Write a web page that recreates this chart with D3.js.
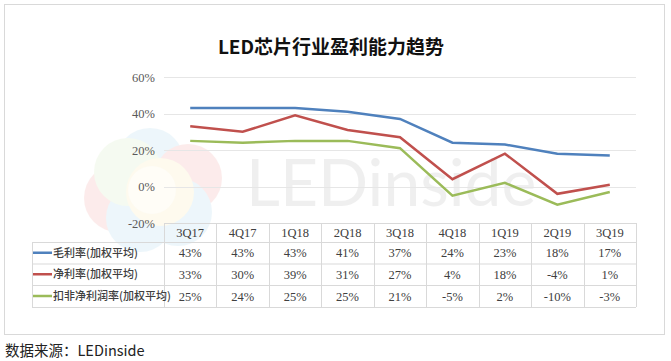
<!DOCTYPE html>
<html>
<head>
<meta charset="utf-8">
<script src="https://cdn.jsdelivr.net/npm/d3@7"></script>
<style>
  body { margin: 0; background: #fff; }
  svg { display: block; }
</style>
</head>
<body>
<script>
const [width, height] = [671, 361];

const quarters = ['3Q17', '4Q17', '1Q18', '2Q18', '3Q18', '4Q18', '1Q19', '2Q19', '3Q19'];
const seriesNames = ['毛利率(加权平均)', '净利率(加权平均)', '扣非净利润率(加权平均)'];
const grossMargin = [43, 43, 43, 41, 37, 24, 23, 18, 17];
const netMargin = [33, 30, 39, 31, 27, 4, 18, -4, 1];
const adjNetMargin = [25, 24, 25, 25, 21, -5, 2, -10, -3];
const yTicks = [-20, 0, 20, 40, 60];
const colors = ['#4f81bd', '#c0504d', '#9bbb59'];

const series = [grossMargin, netMargin, adjNetMargin].map((v, i) => ({
  name: seriesNames[i], values: v, color: colors[i]
}));

const svg = d3.select('body').append('svg')
  .attr('width', width)
  .attr('height', height);

// outer frame
svg.append('rect')
  .attr('x', 4.5).attr('y', 4.5)
  .attr('width', 660).attr('height', 330)
  .attr('fill', '#fff')
  .attr('stroke', '#d9d9d9');

// faint watermark
const wm = svg.append('g').attr('opacity', 0.09);
[[150, 162, '#3fa7d6'], [118, 198, '#e3342f'], [188, 178, '#e3342f'], [140, 218, '#3fa7d6'],
 [178, 212, '#3fa7d6'], [128, 172, '#9bd36b'], [160, 192, '#f6d34a']].forEach(c => {
  wm.append('circle').attr('cx', c[0]).attr('cy', c[1]).attr('r', 34).attr('fill', c[2]);
});
svg.append('circle').attr('cx', 152).attr('cy', 190).attr('r', 24).attr('fill', '#fff').attr('opacity', 0.5);
svg.append('text')
  .attr('x', 246).attr('y', 206)
  .attr('font-family', 'Lato, "Open Sans", sans-serif')
  .attr('font-size', 66)
  .attr('fill', '#000')
  .attr('opacity', 0.06)
  .text('LEDinside');

const x = d3.scaleBand().domain(quarters).range([164, 636]);
const y = d3.scaleLinear().domain([-20, 60]).range([223, 77]);

// title
svg.append('text')
  .attr('x', 331).attr('y', 54)
  .attr('text-anchor', 'middle')
  .attr('font-family', '"Noto Sans CJK SC", sans-serif')
  .attr('font-weight', 'bold')
  .attr('font-size', 19)
  .attr('fill', '#111')
  .text('LED芯片行业盈利能力趋势');

// y axis
const yAxis = svg.append('g')
  .attr('transform', 'translate(164,0)')
  .call(d3.axisLeft(y).tickValues(yTicks).tickSize(0).tickPadding(9).tickFormat(d => d + '%'));
yAxis.select('.domain').remove();
yAxis.selectAll('text')
  .attr('font-family', '"Liberation Serif", serif')
  .attr('font-size', 12.5)
  .attr('fill', '#595959');

svg.append('g').selectAll('line')
  .data(yTicks.filter(d => d > -20))
  .join('line')
  .attr('x1', 164).attr('x2', 636)
  .attr('y1', d => Math.round(y(d)) + 0.5).attr('y2', d => Math.round(y(d)) + 0.5)
  .attr('stroke', '#e6e6e6');

// lines
const line = d3.line()
  .x((d, i) => x(quarters[i]) + x.bandwidth() / 2)
  .y(d => y(d));

svg.append('g').selectAll('path')
  .data(series)
  .join('path')
  .attr('d', d => line(d.values))
  .attr('fill', 'none')
  .attr('stroke', d => d.color)
  .attr('stroke-width', 2.5);

// data table
const rowTop = [223, 242, 263.5, 285];
const rowBottom = 307;
const tbl = svg.append('g').attr('stroke', '#d9d9d9').attr('fill', 'none');
tbl.append('line').attr('x1', 164).attr('x2', 636).attr('y1', 223.5).attr('y2', 223.5);
[242, 263.5, 285, 307].forEach(yy => {
  tbl.append('line').attr('x1', 32).attr('x2', 636).attr('y1', yy + 0.5).attr('y2', yy + 0.5);
});
tbl.append('line').attr('x1', 32.5).attr('x2', 32.5).attr('y1', 242).attr('y2', rowBottom);
quarters.forEach(q => {
  const xx = Math.round(x(q)) + 0.5;
  tbl.append('line').attr('x1', xx).attr('x2', xx).attr('y1', 223).attr('y2', rowBottom);
});
tbl.append('line').attr('x1', 636.5).attr('x2', 636.5).attr('y1', 223).attr('y2', rowBottom);

// header labels
svg.append('g').selectAll('text')
  .data(quarters)
  .join('text')
  .attr('x', d => x(d) + x.bandwidth() / 2)
  .attr('y', 237)
  .attr('text-anchor', 'middle')
  .attr('font-family', '"Liberation Serif", serif')
  .attr('font-size', 12.5)
  .attr('fill', '#404040')
  .text(d => d);

// rows
const rows = svg.append('g').selectAll('g')
  .data(series)
  .join('g')
  .attr('transform', (d, i) => `translate(0, ${(rowTop[i + 1] + (i < 2 ? rowTop[i + 2] : rowBottom)) / 2})`);

rows.append('line')
  .attr('x1', 33).attr('x2', 52)
  .attr('y1', 0).attr('y2', 0)
  .attr('stroke', d => d.color)
  .attr('stroke-width', 2.5);

rows.append('text')
  .attr('x', 53).attr('y', 4)
  .attr('font-family', '"Noto Sans CJK SC", sans-serif')
  .attr('font-size', 11)
  .attr('font-weight', 500)
  .attr('fill', '#404040')
  .text(d => d.name);

rows.selectAll('text.val')
  .data(d => d.values)
  .join('text')
  .attr('class', 'val')
  .attr('x', (d, i) => x(quarters[i]) + x.bandwidth() / 2)
  .attr('y', 4.5)
  .attr('text-anchor', 'middle')
  .attr('font-family', '"Liberation Serif", serif')
  .attr('font-size', 12.5)
  .attr('fill', '#404040')
  .text(d => d + '%');

// source
svg.append('text')
  .attr('x', 5).attr('y', 356)
  .attr('font-family', '"Noto Sans CJK SC", "Noto Sans", sans-serif')
  .attr('font-size', 14.5)
  .attr('fill', '#222')
  .text('数据来源：LEDinside');
</script>
</body>
</html>
